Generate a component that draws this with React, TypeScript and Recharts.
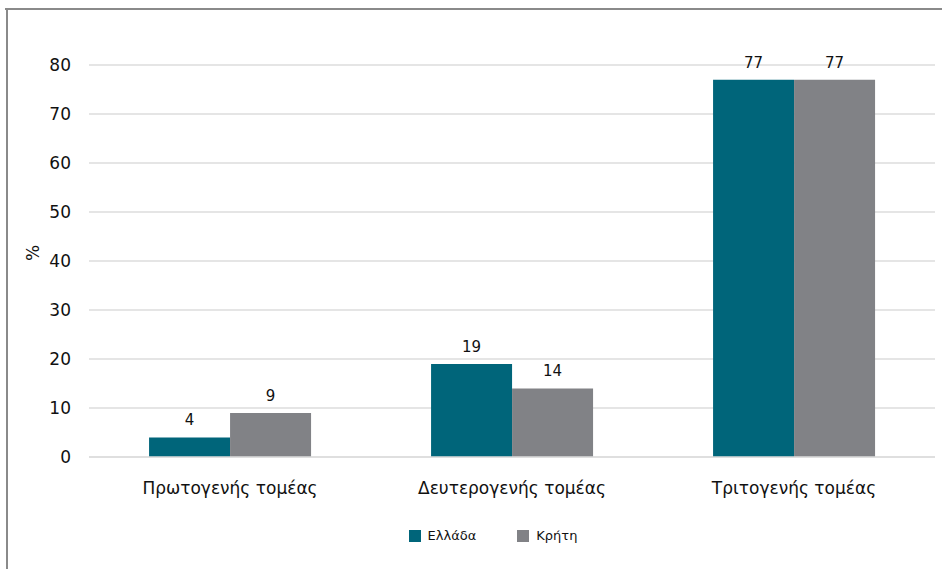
import React from "react";
import { BarChart, Bar, XAxis, YAxis, CartesianGrid, LabelList, Legend } from "recharts";

const categories = ["Πρωτογενής τομέας", "Δευτερογενής τομέας", "Τριτογενής τομέας"];
const greece = [4, 19, 77];
const crete = [9, 14, 77];
const yTicks = [0, 10, 20, 30, 40, 50, 60, 70, 80];
const seriesNames = ["Ελλάδα", "Κρήτη"];
const colors = ["#00657A", "#818286"];

const data = categories.map((c, i) => ({ name: c, greece: greece[i], crete: crete[i] }));

const FONT = "'DejaVu Sans', 'Noto Sans', sans-serif";

const renderLegend = () => (
  <div style={{ display: "flex", justifyContent: "center", alignItems: "center", fontFamily: FONT, fontSize: 13, color: "#111", paddingLeft: 44 }}>
    {seriesNames.map((n, i) => (
      <div key={n} style={{ display: "flex", alignItems: "center", marginRight: i === 0 ? 41 : 0 }}>
        <span style={{ display: "inline-block", width: 12, height: 12, background: colors[i], marginRight: 7 }} />
        <span>{n}</span>
      </div>
    ))}
  </div>
);

export default function App() {
  return (
    <div style={{ position: "absolute", left: 0, top: 0, width: 942, height: 569, background: "#fff", overflow: "hidden" }}>
      <div style={{ position: "absolute", left: 0, top: 0 }}>
        <BarChart
          width={942}
          height={569}
          data={data}
          margin={{ top: 65, right: 7, left: 29, bottom: 10 }}
          barCategoryGap="21.3%"
          barGap={0}
        >
          <CartesianGrid vertical={false} stroke="#dcdcdc" strokeWidth={1.5} />
          <XAxis
            dataKey="name"
            axisLine={{ stroke: "#dcdcdc", strokeWidth: 1.5 }}
            tickLine={false}
            tickMargin={19}
            height={45}
            tick={{ fill: "#111", fontSize: 17, fontFamily: FONT }}
          />
          <YAxis
            width={60}
            domain={[0, 80]}
            ticks={yTicks}
            axisLine={false}
            tickLine={false}
            tickMargin={12}
            tick={{ fill: "#111", fontSize: 17, fontFamily: FONT }}
            label={{ value: "%", angle: -90, position: "insideLeft", offset: 4, style: { fill: "#111", fontSize: 17, fontFamily: FONT } }}
          />
          <Legend verticalAlign="bottom" height={57} content={renderLegend} wrapperStyle={{ left: 0, top: 528, width: 942 }} />
          <Bar dataKey="greece" name={seriesNames[0]} fill={colors[0]} isAnimationActive={false}>
            <LabelList dataKey="greece" position="top" offset={12} style={{ fill: "#111", fontSize: 15, fontFamily: FONT }} />
          </Bar>
          <Bar dataKey="crete" name={seriesNames[1]} fill={colors[1]} isAnimationActive={false}>
            <LabelList dataKey="crete" position="top" offset={12} style={{ fill: "#111", fontSize: 15, fontFamily: FONT }} />
          </Bar>
        </BarChart>
      </div>
      <div style={{ position: "absolute", left: 5, top: 8, width: 937, height: 2, background: "#8a8a8a", pointerEvents: "none" }} />
      <div style={{ position: "absolute", left: 6, top: 8, width: 2, height: 561, background: "#8a8a8a", pointerEvents: "none" }} />
    </div>
  );
}
